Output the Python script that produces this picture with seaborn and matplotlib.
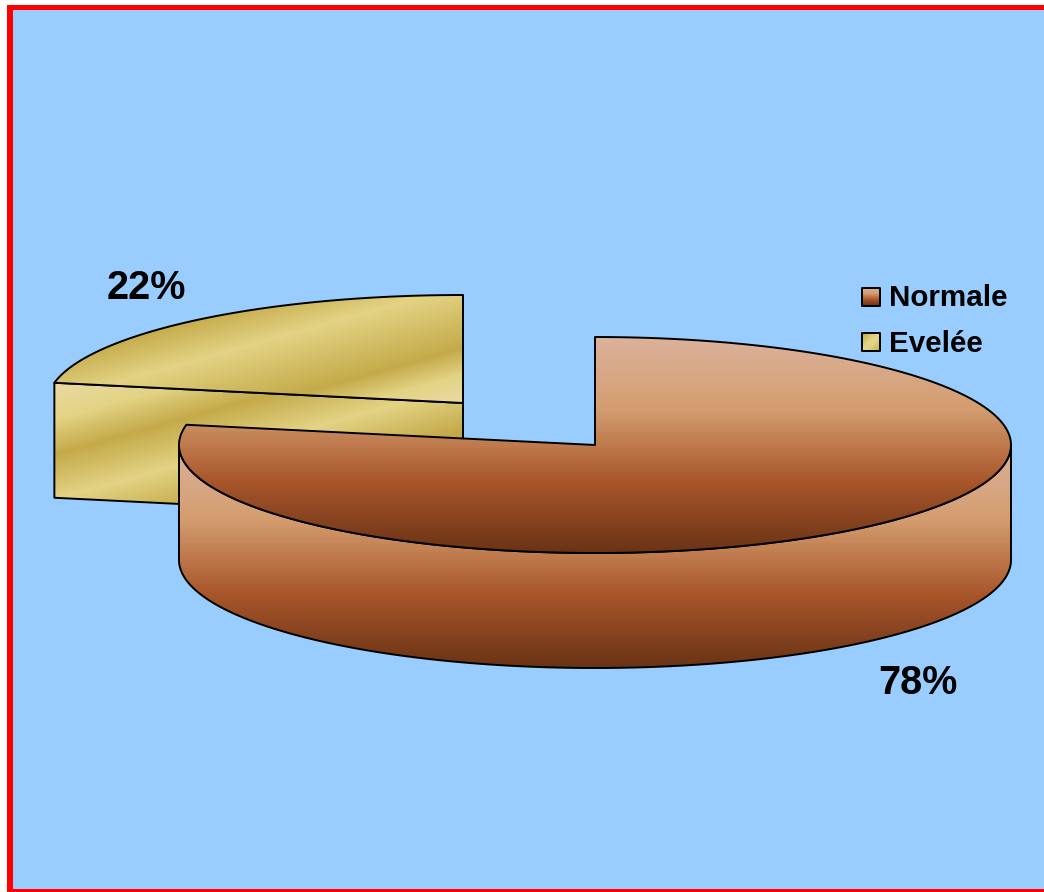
import numpy as np
import matplotlib
matplotlib.use("Agg")
import matplotlib.pyplot as plt
from matplotlib.patches import PathPatch, Rectangle
from matplotlib.path import Path
import seaborn as sns

# Data
categories = ["Normale", "Evelée"]
shares = [78, 22]
share_labels = ["78%", "22%"]

# Styling
sns.set_theme(style="white")
plt.rcParams["font.family"] = ["Liberation Sans", "DejaVu Sans"]

W, H = 1044, 892
RX, RY, DEPTH = 416, 108, 115
BROWN_CENTER = (595, 445)
YELLOW_CENTER = (463, 403)
EDGE = "#000000"
LW = 1.4

brown_cmap = sns.blend_palette(["#DBB29C", "#D49D6F", "#A9562B", "#6A3315"], 256, as_cmap=True)
yellow_cmap = sns.blend_palette(["#E8DAA2", "#E3D384", "#C4AA4A", "#E3D384", "#E8DAA2"], 256, as_cmap=True)

fig = plt.figure(figsize=(W / 100, H / 100), dpi=100, facecolor="white")
ax = fig.add_axes([0, 0, 1, 1])
ax.set_axis_off()

ax.add_patch(Rectangle((7, 5), W, H, facecolor="#FF0000", edgecolor="none", zorder=0))
ax.add_patch(Rectangle((13, 10), W, 879, facecolor="#99CCFF", edgecolor="none", zorder=1))

yy, xx = np.mgrid[0:H, 0:W] + 0.5


def ellipse(center, a0, a1, dy=0.0):
    a = np.radians(np.linspace(a0, a1, 200))
    return np.column_stack([center[0] + RX * np.cos(a), center[1] - RY * np.sin(a) + dy])


def draw(points, field, cmap, z):
    patch = PathPatch(Path(np.vstack([points, points[:1]]), closed=True), facecolor="none",
                      edgecolor=EDGE, linewidth=LW, joinstyle="round", zorder=z + 0.5)
    ax.add_patch(patch)
    im = ax.imshow(field, extent=(0, W, H, 0), cmap=cmap, vmin=0, vmax=1, aspect="auto",
                   interpolation="bilinear", zorder=z)
    im.set_clip_path(patch)


def vertical(y0, y1):
    return np.clip((yy - y0) / (y1 - y0), 0, 1)


def bands(knots, levels):
    # diagonal colour bands: knots are positions across the bands, levels their colours
    return np.interp(yy + 0.28 * xx, knots, levels)


# Angles from the values; slices start at 12 o'clock, clockwise
start = 90.0
split = start - shares[0] / sum(shares) * 360.0 + 360.0
split_rad = np.radians(split)

# Yellow slice
yc = np.array(YELLOW_CENTER, float)
y_edge = yc + [RX * np.cos(split_rad), -RY * np.sin(split_rad)]
y_side = np.array([y_edge, yc, yc + [0, DEPTH], y_edge + [0, DEPTH]])
draw(y_side, bands([400, 470, 515, 560], [0.0, 0.5, 0.25, 0.5]), yellow_cmap, 2)
y_top = np.vstack([yc, ellipse(yc, start, split)])
draw(y_top, bands([372, 415, 478, 530], [0.5, 0.25, 0.5, 0.0]), yellow_cmap, 3)

# Brown slice
bc = np.array(BROWN_CENTER, float)
b_side = np.vstack([ellipse(bc, 180, 360), ellipse(bc, 360, 180, DEPTH)])
draw(b_side, vertical(bc[1], bc[1] + RY + DEPTH), brown_cmap, 4)
b_top = np.vstack([bc, ellipse(bc, split, 360 + start)])
draw(b_top, vertical(bc[1] - RY, bc[1] + RY), brown_cmap, 5)

# Percentage labels
ax.text(918, 683, share_labels[0], ha="center", va="center", fontsize=28.5, fontweight="bold", color="black", zorder=8)
ax.text(146, 288, share_labels[1], ha="center", va="center", fontsize=28.5, fontweight="bold", color="black", zorder=8)

# Legend
for label, y0, field_cmap, field in [
    (categories[0], 287.5, brown_cmap, vertical(287.5, 305.5)),
    (categories[1], 333, yellow_cmap, np.interp(yy + xx, [1196, 1214, 1232], [0.5, 0.2, 0.5])),
]:
    box = np.array([[862, y0], [880, y0], [880, y0 + 18], [862, y0 + 18]], float)
    draw(box, field, field_cmap, 6)
    ax.text(889, y0 + 10.5, label, ha="left", va="center", fontsize=21.3, fontweight="bold", color="black", zorder=8)

ax.set_xlim(0, W)
ax.set_ylim(H, 0)
fig.savefig("out.png", dpi=100, facecolor="white")
